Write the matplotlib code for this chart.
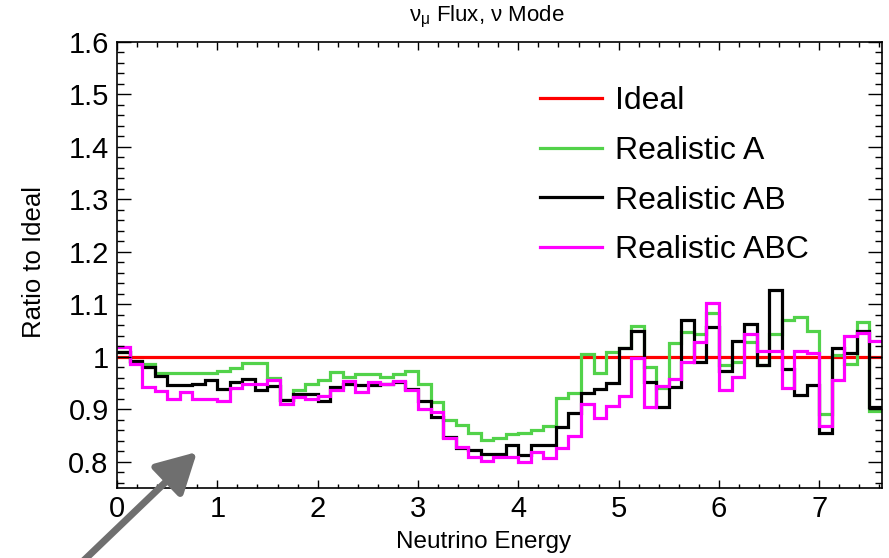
import numpy as np
import matplotlib
matplotlib.use("Agg")
import matplotlib.pyplot as plt
from matplotlib.ticker import MultipleLocator, FuncFormatter

plt.rcParams["font.family"] = ["Liberation Sans", "DejaVu Sans"]
plt.rcParams["mathtext.fontset"] = "custom"
plt.rcParams["mathtext.rm"] = "Liberation Sans"
plt.rcParams["mathtext.it"] = "Liberation Sans:italic"

# Energy binning (GeV): 0.125 wide bins from 0 to 7.625
bin_width = 0.125
n_bins = 61
edges = np.arange(n_bins + 1) * bin_width

ideal = np.ones(n_bins)

realistic_a = [
    1.010, 0.990, 0.986, 0.970, 0.970, 0.970, 0.970, 0.970, 0.973, 0.978,
    0.989, 0.989, 0.960, 0.917, 0.936, 0.949, 0.955, 0.971, 0.961, 0.968,
    0.968, 0.961, 0.968, 0.973, 0.948, 0.914, 0.880, 0.870, 0.855, 0.842,
    0.846, 0.852, 0.855, 0.861, 0.869, 0.921, 0.931, 1.006, 0.970, 1.009,
    1.017, 1.059, 0.981, 0.940, 1.026, 1.047, 1.044, 1.084, 0.984, 0.990,
    1.028, 0.984, 1.043, 1.070, 1.076, 1.050, 0.891, 1.003, 0.987, 1.066,
    0.897,
]

realistic_ab = [
    1.010, 0.992, 0.981, 0.964, 0.947, 0.947, 0.949, 0.955, 0.938, 0.952,
    0.957, 0.936, 0.944, 0.917, 0.930, 0.930, 0.915, 0.943, 0.949, 0.946,
    0.946, 0.949, 0.952, 0.938, 0.915, 0.886, 0.847, 0.826, 0.822, 0.815,
    0.815, 0.832, 0.812, 0.831, 0.831, 0.866, 0.893, 0.932, 0.939, 0.950,
    1.017, 1.050, 0.952, 0.904, 0.942, 1.070, 0.990, 1.057, 0.973, 1.030,
    1.062, 0.984, 1.127, 0.977, 0.928, 0.947, 0.855, 1.017, 1.007, 1.049,
    0.904,
]

realistic_abc = [
    1.019, 0.987, 0.943, 0.935, 0.920, 0.933, 0.920, 0.920, 0.915, 0.940,
    0.949, 0.949, 0.955, 0.910, 0.924, 0.920, 0.925, 0.937, 0.954, 0.933,
    0.952, 0.949, 0.954, 0.936, 0.900, 0.895, 0.846, 0.828, 0.810, 0.801,
    0.810, 0.810, 0.799, 0.818, 0.807, 0.826, 0.850, 0.910, 0.883, 0.907,
    0.926, 0.998, 0.905, 0.945, 0.957, 0.990, 1.028, 1.103, 0.937, 0.961,
    1.043, 1.012, 1.012, 0.941, 1.011, 1.007, 0.869, 0.956, 1.039, 1.045,
    1.030,
]

series = [
    ("Ideal", ideal, "#ff0000"),
    ("Realistic A", realistic_a, "#52d24a"),
    ("Realistic AB", realistic_ab, "#000000"),
    ("Realistic ABC", realistic_abc, "#ff00ff"),
]

W, H = 889, 558
fig = plt.figure(figsize=(W / 100, H / 100), dpi=100)
L, R, T, B = 117, 882, 42, 488
ax = fig.add_axes([L / W, 1 - B / H, (R - L) / W, (B - T) / H])

for label, vals, color in series:
    ax.stairs(vals, edges, color=color, lw=2.3, label=label, baseline=None)

ax.set_xlim(edges[0], edges[-1])
ax.set_ylim(0.75, 1.6)

ax.xaxis.set_major_locator(MultipleLocator(1))
ax.xaxis.set_minor_locator(MultipleLocator(0.2))
ax.yaxis.set_major_locator(MultipleLocator(0.1))
ax.yaxis.set_minor_locator(MultipleLocator(0.02))
ax.yaxis.set_major_formatter(FuncFormatter(lambda v, p: f"{v:g}"))
ax.xaxis.set_major_formatter(FuncFormatter(lambda v, p: f"{v:g}"))

ax.tick_params(axis="x", which="major", direction="in", top=True, bottom=True,
               length=8 * 0.72, width=1.0, labelsize=21, pad=5)
ax.tick_params(axis="x", which="minor", direction="in", top=True, bottom=True,
               length=4.5 * 0.72, width=1.0)
ax.tick_params(axis="y", which="major", direction="in", left=True, right=True,
               length=14 * 0.72, width=1.0, labelsize=21, pad=6)
ax.tick_params(axis="y", which="minor", direction="in", left=True, right=True,
               length=7 * 0.72, width=1.0)
for s in ax.spines.values():
    s.set_linewidth(1.2)

fig.text(487 / W, 1 - 17 / H, r"ν$_{\mathrm{μ}}$ Flux, ν Mode", ha="center",
         va="center", fontsize=16)
fig.text(484 / W, 1 - 542 / H, "Neutrino Energy", ha="center", va="center",
         fontsize=17.5)
fig.text(34 / W, 1 - 262 / H, "Ratio to Ideal", ha="center", va="center",
         rotation=90, fontsize=18.5)

ax.legend(loc="upper left", bbox_to_anchor=((540 - L) / (R - L), (B - 86) / (B - T)),
          frameon=False, fontsize=23, handlelength=1.94, handletextpad=0.4,
          labelspacing=0.62, borderaxespad=0, borderpad=0)

# Pointer arrow in the lower-left corner
ax.annotate("", xy=(197, H - 452), xycoords="figure pixels",
            xytext=(78, H - 566), textcoords="figure pixels",
            arrowprops=dict(arrowstyle="-|>,head_length=1.1,head_width=0.6",
                            lw=5, color="#6f6f6f", mutation_scale=22,
                            shrinkA=0, shrinkB=0),
            annotation_clip=False)

fig.savefig("out.png", dpi=100)
